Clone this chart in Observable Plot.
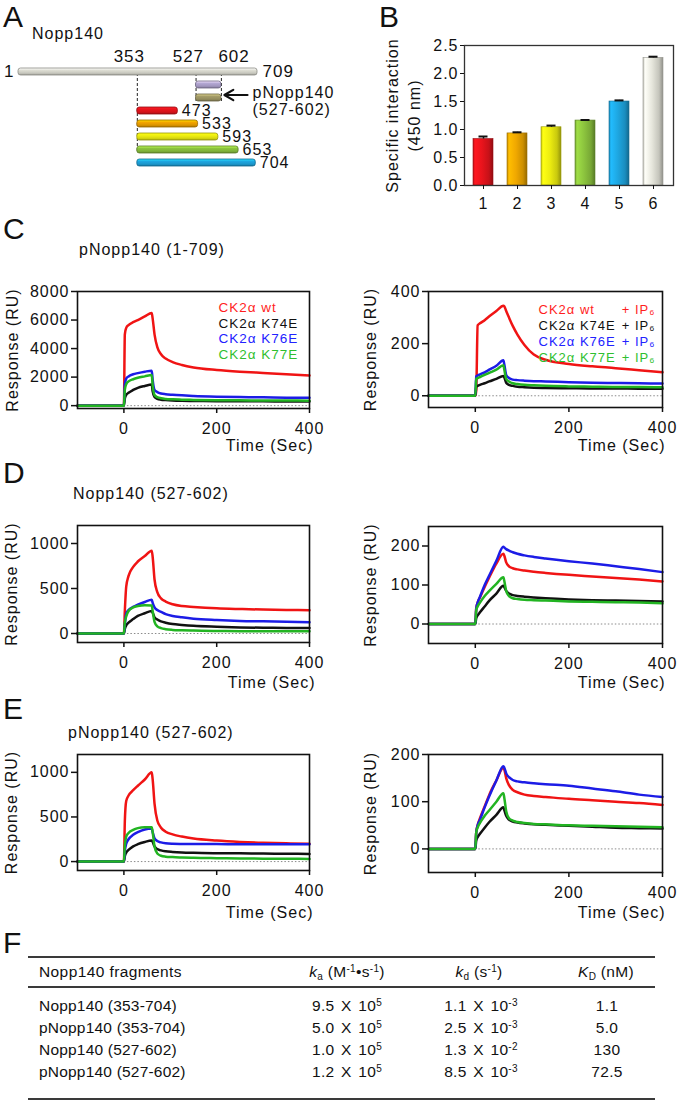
<!DOCTYPE html>
<html><head><meta charset="utf-8">
<script src="https://cdn.jsdelivr.net/npm/d3@7"></script>
<script src="https://cdn.jsdelivr.net/npm/@observablehq/plot@0.6"></script>
<style>
body{margin:0;background:#fff;}
#fig{position:relative;width:680px;height:1119px;overflow:hidden;font-family:'Liberation Sans',Arial,Helvetica,sans-serif;color:#111;background:#fff;}
.abs{position:absolute;white-space:nowrap;line-height:1;}
.abs sup,.abs sub{font-size:10px;line-height:0;vertical-align:baseline;position:relative;}
.abs sup{top:-0.5em;}
.abs sub{top:0.3em;}
.panel{position:absolute;}
.panel svg{overflow:visible;}
.rule{position:absolute;background:#3a3a3a;}
</style></head><body><div id="fig"></div>
<script>
const FONT = "'Liberation Sans', Arial, Helvetica, sans-serif";

// ---------- Panel A: Nopp140 fragments ----------
const fragNames  = ["1-709", "527-602", "p527-602", "353-473", "353-533", "353-593", "353-653", "353-704"];
const fragStart  = [1, 527, 527, 353, 353, 353, 353, 353];
const fragEnd    = [709, 602, 602, 473, 533, 593, 653, 704];
const fragColors = ["#dcdcd2", "#b2a6d2", "#a49c68", "#e8141c", "#f2a400", "#f0f010", "#8cc43e", "#1ea6e0"];
const siteLabels = [353, 527, 602];

// ---------- Panel B: specific interaction ----------
const barLabels = ["1", "2", "3", "4", "5", "6"];
const barValues = [0.83, 0.93, 1.04, 1.16, 1.50, 2.28];
const barErrors = [0.045, 0.02, 0.03, 0.01, 0.02, 0.02];
const barColors = ["#e8141c", "#f0a800", "#ecec10", "#8cc43e", "#1ea6e0", "#e6e6dc"];
const barTicks  = [0, 0.5, 1, 1.5, 2, 2.5];

// ---------- Panels C-E: SPR sensorgrams ----------
const sprTime    = [-100, -50, 0, 2, 5, 10, 20, 30, 45, 60, 62, 66, 72, 80, 90, 105, 125, 150, 200, 250, 300, 350, 400];
const sprXDomain = [-100, 400];
const sprXTicks  = [0, 200, 400];
const injectTime = 0;
const ck2Names   = ["CK2α wt", "CK2α K74E", "CK2α K76E", "CK2α K77E"];
const ck2Colors  = ["#f01414", "#111111", "#1c1ce6", "#22b422"];
const legendColors = ["#ff1e1e", "#111111", "#2222ff", "#2fbf2f"];
const ip6Suffix  = "+ IP₆";

// C left: pNopp140 (1-709)
const cLeftWt   = [0,0,0, 5000,5450,5650,5850,6000,6250,6500, 6100,5000,4100,3600,3300,3050,2850,2680,2500,2380,2290,2200,2120];
const cLeftK74E = [0,0,0, 500,750,900,1100,1250,1380,1480, 1000,600,480,420,390,360,340,330,315,305,300,295,290];
const cLeftK76E = [0,0,0, 1500,1900,2050,2200,2280,2380,2450, 1800,1100,950,850,800,760,720,680,630,600,580,560,550];
const cLeftK77E = [0,0,0, 1100,1500,1700,1850,1950,2050,2150, 1400,750,600,520,470,440,420,400,380,370,360,355,350];
// C right: + IP6
const cRightWt   = [0,0,0, 20,270,278,290,305,325,345, 343,325,300,268,235,195,158,138,122,113,106,98,90];
const cRightK74E = [0,0,0, 35,38,42,48,55,65,76, 70,50,42,38,35,33,31,30,29,28,28,27,27];
const cRightK76E = [0,0,0, 75,78,82,90,100,115,136, 120,80,68,62,60,58,56,55,52,50,49,48,47];
const cRightK77E = [0,0,0, 65,68,72,80,88,100,117, 100,65,55,48,45,42,40,38,36,35,34,34,33];
// D left: Nopp140 (527-602)
const dLeftWt   = [0,0,0, 250,520,640,740,800,860,920, 850,600,460,390,355,325,305,295,280,272,266,262,258];
const dLeftK74E = [0,0,0, 50,90,120,160,195,225,250, 230,180,155,135,120,105,95,85,75,68,64,62,60];
const dLeftK76E = [0,0,0, 100,220,260,295,320,350,375, 340,290,260,240,215,195,180,165,150,140,135,130,125];
const dLeftK77E = [0,0,0, 120,190,250,290,305,315,310, 250,130,80,60,48,40,36,32,28,26,25,24,24];
// D right: + IP6
const dRightWt   = [0,0,0, 40,55,68,95,120,155,180, 175,158,148,143,140,137,134,131,126,122,118,114,109];
const dRightK74E = [0,0,0, 15,22,30,45,60,78,98, 95,85,78,74,72,70,68,66,63,61,60,59,58];
const dRightK76E = [0,0,0, 40,55,70,100,125,162,198, 196,192,188,184,180,176,172,168,161,155,148,141,133];
const dRightK77E = [0,0,0, 35,45,55,72,85,103,120, 110,85,72,66,64,62,61,60,58,57,56,55,53];
// E left: pNopp140 (527-602)
const eLeftWt   = [0,0,0, 450,680,740,800,850,920,1000, 920,650,460,380,335,305,280,258,235,220,210,204,200];
const eLeftK74E = [0,0,0, 60,100,130,170,195,220,235, 220,170,140,125,115,108,102,98,94,92,90,88,86];
const eLeftK76E = [0,0,0, 120,200,250,300,330,360,370, 330,260,230,215,205,200,198,197,196,195,195,195,195];
const eLeftK77E = [0,0,0, 180,280,320,355,375,385,385, 330,170,90,65,55,50,46,42,38,35,33,32,30];
// E right: + IP6
const eRightWt   = [0,0,0, 35,50,65,90,115,145,172, 168,150,135,125,120,115,112,110,106,103,100,97,93];
const eRightK74E = [0,0,0, 18,25,32,45,57,72,88, 82,70,62,58,56,54,52,51,49,47,45,44,43];
const eRightK76E = [0,0,0, 35,50,62,88,112,145,175, 172,160,152,146,143,141,139,137,134,128,122,115,110];
const eRightK77E = [0,0,0, 35,45,55,70,82,100,118, 108,80,65,60,57,55,53,52,50,49,48,47,46];

// ---------- Panel F: kinetic table ----------
const tblFragments = ["Nopp140 (353-704)", "pNopp140 (353-704)", "Nopp140 (527-602)", "pNopp140 (527-602)"];
const tblKaMant = ["9.5", "5.0", "1.0", "1.2"];
const tblKaExp  = [5, 5, 5, 5];
const tblKdMant = ["1.1", "2.5", "1.3", "8.5"];
const tblKdExp  = [-3, -3, -2, -3];
const tblKD     = ["1.1", "5.0", "130", "72.5"];

// ================= helpers =================
const fig = document.getElementById("fig");
const plotStyle = {fontFamily: FONT, fontSize: "16px", letterSpacing: "1px", color: "#111", background: "none", overflow: "visible"};

function addText(html, x, yc, fs, opts = {}) {
  const d = document.createElement("div");
  d.className = "abs";
  d.innerHTML = html;
  d.style.fontSize = fs + "px";
  d.style.top = (yc - 0.4885 * fs) + "px";
  if (opts.anchor === "middle") { d.style.left = x + "px"; d.style.transform = "translateX(-50%)"; }
  else d.style.left = x + "px";
  d.style.letterSpacing = (opts.ls != null ? opts.ls : 0) + "px";
  if (opts.ws != null) d.style.wordSpacing = opts.ws + "px";
  fig.appendChild(d);
}
function addPlot(svg, left, top) {
  const d = document.createElement("div");
  d.className = "panel";
  d.style.left = left + "px"; d.style.top = top + "px"; d.style.width = "340px";
  d.appendChild(svg);
  fig.appendChild(d);
}
function addRule(x, y, w, h) {
  const d = document.createElement("div");
  d.className = "rule";
  Object.assign(d.style, {left: x + "px", top: y + "px", width: w + "px", height: h + "px"});
  fig.appendChild(d);
}

// gradients
const ns = "http://www.w3.org/2000/svg";
const gsvg = document.createElementNS(ns, "svg");
gsvg.setAttribute("width", 0); gsvg.setAttribute("height", 0);
gsvg.style.position = "absolute";
const defs = document.createElementNS(ns, "defs");
gsvg.appendChild(defs);
document.body.appendChild(gsvg);
function gradient(id, horizontal, stops) {
  const g = document.createElementNS(ns, "linearGradient");
  g.setAttribute("id", id);
  g.setAttribute("x1", 0); g.setAttribute("y1", 0);
  g.setAttribute("x2", horizontal ? 1 : 0); g.setAttribute("y2", horizontal ? 0 : 1);
  for (const [o, c] of stops) {
    const s = document.createElementNS(ns, "stop");
    s.setAttribute("offset", o); s.setAttribute("stop-color", c);
    g.appendChild(s);
  }
  defs.appendChild(g);
}
fragColors.forEach((c, i) => {
  const col = d3.color(c);
  gradient("ga" + i, false, [[0, col.brighter(0.9).formatHex()], [0.35, c], [0.75, col.darker(0.3).formatHex()], [1, col.darker(1.0).formatHex()]]);
});
barColors.forEach((c, i) => {
  const col = d3.color(c);
  gradient("gb" + i, true, [[0, col.darker(0.6).formatHex()], [0.1, col.brighter(0.35).formatHex()], [0.45, c], [0.8, col.darker(0.45).formatHex()], [1, col.darker(1.3).formatHex()]]);
});

// ================= Panel A =================
const aRows = fragNames.map((name, i) => ({name, start: fragStart[i], end: fragEnd[i], i}));
const dashes = [
  {pos: fragStart[3], from: fragNames[0], to: fragNames[6]},
  {pos: fragStart[1], from: fragNames[0], to: fragNames[2]},
  {pos: fragEnd[1], from: fragNames[0], to: fragNames[2]}
];
const plotA = Plot.plot({
  width: 340, height: 180, marginLeft: 18, marginRight: 83, marginTop: 0, marginBottom: 0,
  style: plotStyle,
  x: {domain: [fragStart[0], fragEnd[0]], axis: null},
  y: {type: "band", domain: fragNames, range: [61, 172], paddingInner: 0.5, paddingOuter: 0.25, axis: null},
  marks: [
    Plot.ruleX(dashes, {x: "pos", y1: "from", y2: "to", stroke: "#222", strokeWidth: 1, strokeDasharray: "3,2"}),
    ...aRows.map(r => Plot.barX([r], {x1: "start", x2: "end", y: "name", fill: `url(#ga${r.i})`,
      stroke: d3.color(fragColors[r.i]).darker(1.3).formatHex(), strokeWidth: 0.8, rx: 2.5})),
    Plot.text([siteLabels[0]], {x: d => d, y: () => fragNames[0], dy: -15, dx: -8, textAnchor: "middle", fontSize: 17}),
    Plot.text([siteLabels[1]], {x: d => d, y: () => fragNames[0], dy: -15, dx: 8, textAnchor: "end", fontSize: 17}),
    Plot.text([siteLabels[2]], {x: d => d, y: () => fragNames[0], dy: -15, dx: -3, textAnchor: "start", fontSize: 17}),
    Plot.text([fragStart[0]], {x: d => d, y: () => fragNames[0], dx: -4, textAnchor: "end", fontSize: 17}),
    Plot.text([fragEnd[0]], {x: d => d, y: () => fragNames[0], dx: 5, textAnchor: "start", fontSize: 17}),
    Plot.text(aRows.slice(3), {x: "end", y: "name", text: "end", dx: 4, textAnchor: "start", fontSize: 16}),
    Plot.arrow([{from: fragEnd[0], to: fragEnd[2], row: fragNames[2]}], {x1: "from", x2: "to", y1: "row", y2: "row",
      insetStart: 10, insetEnd: 3, stroke: "#111", strokeWidth: 2.2, headLength: 7, dy: -3}),
    Plot.text([fragNames[2]], {x: () => fragEnd[0], y: d => d, text: () => `pNopp140\n(${fragStart[2]}-${fragEnd[2]})`,
      textAnchor: "start", dx: -5, dy: 3, lineHeight: 1.05, fontSize: 16})
  ]
});
addPlot(plotA, 0, 0);
addText("A", 3, 17, 30);
addText("Nopp140", 32, 34, 16, {ls: 1});

// ================= Panel B =================
const bData = barLabels.map((label, i) => ({label, value: barValues[i], err: barErrors[i], i}));
const plotB = Plot.plot({
  width: 340, height: 215, marginLeft: 124, marginRight: 7, marginTop: 45, marginBottom: 30,
  style: plotStyle,
  x: {domain: barLabels, paddingInner: 0.4, paddingOuter: 0.2},
  y: {domain: [0, 2.5]},
  marks: [
    ...bData.map(d => Plot.barY([d], {x: "label", y: "value", fill: `url(#gb${d.i})`,
      stroke: d3.color(barColors[d.i]).darker(1.2).formatHex(), strokeWidth: 0.6})),
    Plot.ruleX(bData, {x: "label", y1: "value", y2: d => d.value + d.err, stroke: "#111", strokeWidth: 1.5}),
    Plot.tickY(bData, {x: "label", y: d => d.value + d.err, stroke: "#111", strokeWidth: 2, insetLeft: 5.5, insetRight: 5.5}),
    Plot.frame({stroke: "#333", strokeWidth: 1.3}),
    Plot.axisY({ticks: barTicks, tickFormat: d3.format(".1f"), tickSize: 4, tickPadding: 2, label: null, fontSize: 16}),
    Plot.axisX({tickSize: 4, tickPadding: 8, label: null, fontSize: 16}),
    Plot.text(["Specific interaction\n(450 nm)"], {frameAnchor: "left", textAnchor: "middle", rotate: -90, dx: -63, lineHeight: 1.375, fontSize: 16})
  ]
});
addPlot(plotB, 340, 0);
addText("B", 379, 17, 30);

// ================= Panels C-E =================
function sprPlot(cfg) {
  const {series, yDomain, yTicks, top, left, mt, mb, ml, mr, ylabDx, timeDx, timeDy, legend} = cfg;
  const marks = [
    Plot.ruleY([0], {x1: injectTime, x2: sprXDomain[1], stroke: "#8a8a8a", strokeWidth: 1, strokeDasharray: "1.5,2"})
  ];
  series.forEach((vals, k) => {
    const pts = sprTime.map((t, i) => ({t, v: vals[i]}));
    marks.push(Plot.line(pts, {x: "t", y: "v", stroke: ck2Colors[k], strokeWidth: 2.5, curve: "monotone-x"}));
  });
  marks.push(
    Plot.frame({stroke: "#111", strokeWidth: 1.6}),
    Plot.axisX({ticks: sprXTicks, tickSize: 5, tickPadding: 9, label: null, fontSize: 16, strokeWidth: 1.5}),
    Plot.axisY({ticks: yTicks, tickSize: 6, tickPadding: 2, label: null, fontSize: 16, strokeWidth: 1.5, tickFormat: d => String(d)}),
    Plot.text(["Response (RU)"], {frameAnchor: "left", textAnchor: "middle", rotate: -90, dx: ylabDx, fontSize: 16}),
    Plot.text(["Time (Sec)"], {frameAnchor: "bottom-right", textAnchor: "end", dx: timeDx, dy: timeDy, fontSize: 16})
  );
  if (legend) marks.push(...legend);
  const svg = Plot.plot({
    width: 340, height: 192, marginTop: mt, marginBottom: mb, marginLeft: ml, marginRight: mr,
    style: plotStyle,
    x: {domain: sprXDomain},
    y: {domain: yDomain},
    marks
  });
  addPlot(svg, left, top);
}
const legendLeft = ck2Names.map((n, i) => Plot.text([n], {frameAnchor: "top-left", textAnchor: "start", dx: 141, dy: 11 + i * 15.5, fill: legendColors[i], fontSize: 13.5}));
const legendRight = ck2Names.flatMap((n, i) => [
  Plot.text([n], {frameAnchor: "top-left", textAnchor: "start", dx: 110, dy: 13 + i * 16, fill: legendColors[i], fontSize: 13}),
  Plot.text([ip6Suffix], {frameAnchor: "top-right", textAnchor: "end", dx: -7, dy: 13 + i * 16, fill: legendColors[i], fontSize: 13})
]);

sprPlot({series: [cLeftWt, cLeftK74E, cLeftK76E, cLeftK77E], yDomain: [-200, 8000], yTicks: [0, 2000, 4000, 6000, 8000],
  top: 270, left: 0, mt: 21, mb: 54, ml: 77, mr: 31, ylabDx: -65, timeDx: 4, timeDy: 42, legend: legendLeft});
sprPlot({series: [cRightWt, cRightK74E, cRightK76E, cRightK77E], yDomain: [-45, 400], yTicks: [0, 200, 400],
  top: 270, left: 340, mt: 21, mb: 55, ml: 88, mr: 18, ylabDx: -58, timeDx: 3, timeDy: 43, legend: legendRight});
sprPlot({series: [dLeftWt, dLeftK74E, dLeftK76E, dLeftK77E], yDomain: [-100, 1200], yTicks: [0, 500, 1000],
  top: 505, left: 0, mt: 20, mb: 55, ml: 77, mr: 31, ylabDx: -66, timeDx: 6, timeDy: 45});
sprPlot({series: [dRightWt, dRightK74E, dRightK76E, dRightK77E], yDomain: [-50, 250], yTicks: [0, 100, 200],
  top: 505, left: 340, mt: 21, mb: 54, ml: 88, mr: 18, ylabDx: -58, timeDx: 3, timeDy: 44});
sprPlot({series: [eLeftWt, eLeftK74E, eLeftK76E, eLeftK77E], yDomain: [-100, 1200], yTicks: [0, 500, 1000],
  top: 734, left: 0, mt: 20, mb: 56, ml: 77, mr: 31, ylabDx: -66, timeDx: 4, timeDy: 47});
sprPlot({series: [eRightWt, eRightK74E, eRightK76E, eRightK77E], yDomain: [-50, 200], yTicks: [0, 100, 200],
  top: 734, left: 340, mt: 20, mb: 54, ml: 88, mr: 18, ylabDx: -58, timeDx: 3, timeDy: 45});

addText("C", 3, 229, 30);
addText("pNopp140 (1-709)", 79, 250, 16, {ls: 1});
addText("D", 3, 473, 30);
addText("Nopp140 (527-602)", 73, 494, 16, {ls: 1});
addText("E", 3, 709, 30);
addText("pNopp140 (527-602)", 68, 733, 16, {ls: 1});

// ================= Panel F =================
addText("F", 3, 943, 30);
addRule(28, 956, 627, 2);
addRule(28, 986, 627, 1.6);
addRule(28, 1098, 627, 2);
const hdr = 972;
addText("Nopp140 fragments", 39, hdr, 15.5, {ls: 0.4});
addText("<i>k</i><sub>a</sub> (M<sup>-1</sup>•s<sup>-1</sup>)", 347, hdr, 15.5, {anchor: "middle", ls: 0.3});
addText("<i>k</i><sub>d</sub> (s<sup>-1</sup>)", 479, hdr, 15.5, {anchor: "middle", ls: 0.3});
addText("<i>K</i><sub>D</sub> (nM)", 606, hdr, 15.5, {anchor: "middle", ls: 0.3});
const rowY = [1006, 1028, 1050, 1072];
tblFragments.forEach((name, i) => {
  addText(name, 39, rowY[i], 15.5, {ls: 0.2});
  addText(`${tblKaMant[i]} X 10<sup>${tblKaExp[i]}</sup>`, 347, rowY[i], 15.5, {anchor: "middle", ls: 0.3, ws: 2});
  addText(`${tblKdMant[i]} X 10<sup>${tblKdExp[i]}</sup>`, 481, rowY[i], 15.5, {anchor: "middle", ls: 0.3, ws: 2});
  addText(tblKD[i], 607, rowY[i], 15.5, {anchor: "middle", ls: 0.3});
});
</script></body></html>
